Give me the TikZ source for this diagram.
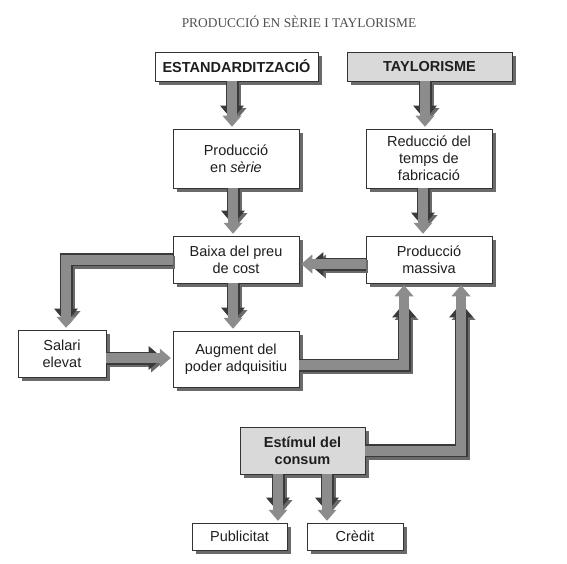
\documentclass[tikz,border=0pt]{standalone}
\usepackage{fontspec}
\setmainfont{Liberation Sans}
\newfontfamily\titlefont{Liberation Serif}
\usetikzlibrary{arrows.meta,calc,backgrounds}
\definecolor{txt}{HTML}{1E1E1E}
\definecolor{boxline}{HTML}{333333}
\definecolor{shadowc}{HTML}{6A6A6A}
\definecolor{graybox}{HTML}{D9D9D9}
\definecolor{arrowout}{HTML}{3A3A3A}
\definecolor{arrowfill}{HTML}{8C8C8C}
\definecolor{titlec}{HTML}{505050}
\tikzset{
  box/.style={draw=boxline, line width=0.9pt, fill=white, text=txt, align=center,
    inner sep=0pt, font=\fontsize{14.5}{17}\selectfont},
  graybg/.style={fill=graybox},
  boldtxt/.style={font=\fontsize{14.5}{17}\selectfont\bfseries},
  arrowshadow/.style={draw=shadowc, line width=13pt, -{Triangle[length=14pt,width=24pt,line width=0pt]}},
  fatarrow/.style={
    draw=arrowout, line width=13pt, -{Triangle[length=14pt,width=24pt,line width=0pt]},
    postaction={draw=arrowfill, line width=10pt, -{Triangle[length=11pt,width=19pt,line width=0pt]}, shorten >=1.8pt}
  }
}
\newcommand\fatconn[2]{%
  \begin{scope}[transform canvas={shift={(2.5,2.5)}}]\draw[arrowshadow,#1] #2;\end{scope}
  \draw[fatarrow,#1] #2;}
\begin{document}
\begin{tikzpicture}[x=1pt,y=-1pt]
\useasboundingbox (0,0) rectangle (567,564);

\node[text=titlec, font=\titlefont\fontsize{13.4}{16}\selectfont] (title) at (299,22) {PRODUCCIÓ EN SÈRIE I TAYLORISME};

% boxes
\node[box, boldtxt, minimum width=163pt, minimum height=29pt] (est) at (236.5,66.5) {ESTANDARDITZACIÓ};
\node[box, boldtxt, graybg, minimum width=165pt, minimum height=29pt] (tay) at (429.5,66.5) {TAYLORISME};
\node[box, minimum width=126pt, minimum height=59pt] (pes) at (236,158.5) {Producció\\en \textit{sèrie}};
\node[box, minimum width=126pt, minimum height=59pt] (red) at (429,158.5) {Reducció del\\temps de\\fabricació};
\node[box, minimum width=126pt, minimum height=47pt] (baixa) at (236,259.5) {Baixa del preu\\de cost};
\node[box, minimum width=126pt, minimum height=47pt] (mass) at (429,259.5) {Producció\\massiva};
\node[box, minimum width=88pt, minimum height=47pt] (sal) at (62,353.5) {Salari\\elevat};
\node[box, minimum width=126pt, minimum height=56pt] (aug) at (236,359) {Augment del\\poder adquisitiu};
\node[box, boldtxt, graybg, minimum width=125pt, minimum height=47pt] (estim) at (302.5,450.5) {Estímul del\\consum};
\node[box, minimum width=95pt, minimum height=27pt] (pub) at (239.5,536.5) {Publicitat};
\node[box, minimum width=96pt, minimum height=27pt] (cre) at (355,536.5) {Crèdit};

\begin{pgfonlayer}{background}
  \fill[white] (0,0) rectangle (567,564);
  \foreach \n in {est,tay,pes,red,baixa,mass,sal,aug,estim,pub,cre}
    \fill[shadowc] ($(\n.south west)+(4,4)$) rectangle ($(\n.north east)+(4,4)$);
\end{pgfonlayer}

% connectors
\fatconn{shorten >=9pt}{([xshift=-4.5pt]est.south) -- ([xshift=-4pt]pes.north)}
\fatconn{shorten >=9pt}{([xshift=-4.5pt]tay.south) -- ([xshift=-4pt]red.north)}
\fatconn{shorten >=11pt}{([xshift=-3pt]pes.south) -- ([xshift=-3pt]baixa.north)}
\fatconn{shorten >=9pt}{([xshift=-6pt]red.south) -- ([xshift=-6pt]mass.north)}
\fatconn{shorten >=10pt}{([yshift=-4.5pt]mass.west) -- ([yshift=-4.5pt]baixa.east)}
\fatconn{shorten >=7pt}{(baixa.west) -| ([xshift=4pt]sal.north)}
\fatconn{shorten >=9pt}{([xshift=-3pt]baixa.south) -- ([xshift=-3pt]aug.north)}
\fatconn{shorten >=10pt}{([yshift=-4.5pt]sal.east) -- ([yshift=-4.5pt]sal.east -| aug.west)}
\fatconn{shorten >=20pt}{([yshift=-6pt]aug.east) -| ([xshift=-25pt]mass.south)}
\fatconn{shorten >=20pt}{(estim.east) -| ([xshift=32pt]mass.south)}
\fatconn{shorten >=11pt}{([xshift=-24.5pt]estim.south) -- ([xshift=-24.5pt]estim.south |- pub.north)}
\fatconn{shorten >=11pt}{([xshift=24.5pt]estim.south) -- ([xshift=24.5pt]estim.south |- cre.north)}
\end{tikzpicture}
\end{document}
